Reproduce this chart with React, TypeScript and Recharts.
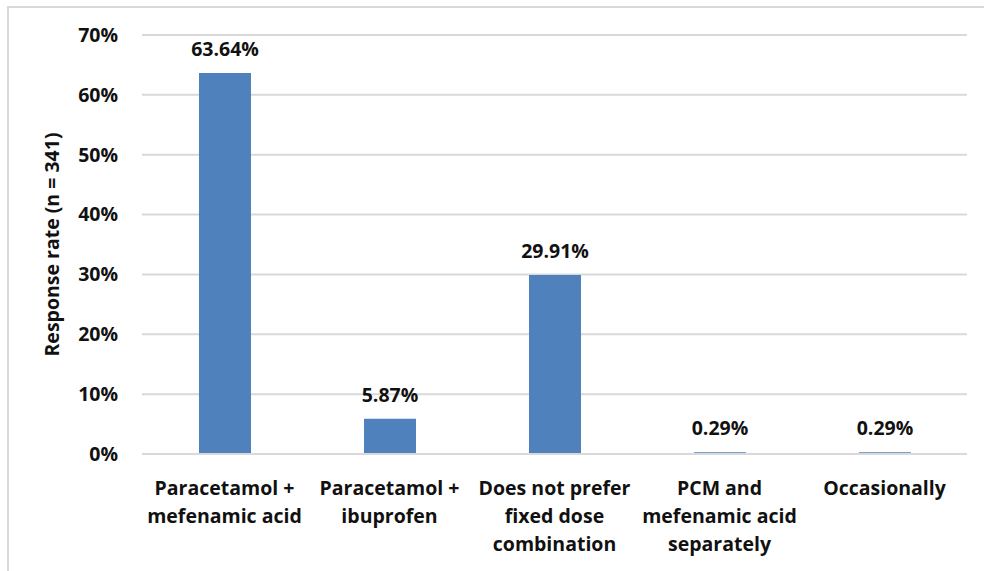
import { BarChart, Bar, XAxis, YAxis, CartesianGrid, LabelList, Label } from "recharts"

const categories = [
  "Paracetamol +\nmefenamic acid",
  "Paracetamol +\nibuprofen",
  "Does not prefer\nfixed dose\ncombination",
  "PCM and\nmefenamic acid\nseparately",
  "Occasionally",
]
const responseRates = [63.64, 5.87, 29.91, 0.29, 0.29]
const yTicks = [0, 10, 20, 30, 40, 50, 60, 70]

const data = categories.map((name, i) => ({ name, rate: responseRates[i] }))

const FONT = "'Open Sans', sans-serif"
const SIZE = 19.5

function CategoryTick(props: any) {
  const { x, y, payload } = props
  const lines = String(payload.value).split("\n")
  return (
    <text x={x} y={y} textAnchor="middle" fontFamily={FONT} fontWeight={700} fontSize={SIZE} fill="#111">
      {lines.map((line, i) => (
        <tspan key={i} x={x} dy={i === 0 ? 33 : 28}>
          {line}
        </tspan>
      ))}
    </text>
  )
}

export default function App() {
  return (
    <div style={{ position: "absolute", left: 0, top: 0, width: 984, height: 571, background: "#fff" }}>
      <div
        style={{
          position: "absolute",
          left: 7,
          top: 6,
          right: 0,
          bottom: 0,
          borderLeft: "2px solid #d9d9d9",
          borderTop: "2px solid #d9d9d9",
        }}
      />
      <div style={{ position: "absolute", left: 0, top: 0 }}>
        <BarChart width={984} height={571} data={data} margin={{ top: 35, right: 17, bottom: 0, left: 0 }}>
          <CartesianGrid vertical={false} stroke="#d9d9d9" strokeWidth={2} />
          <XAxis
            dataKey="name"
            interval={0}
            height={117}
            tickLine={false}
            axisLine={{ stroke: "#d9d9d9", strokeWidth: 2 }}
            tick={<CategoryTick />}
          />
          <YAxis
            width={142}
            domain={[0, 70]}
            ticks={yTicks}
            tickFormatter={(v) => `${v}%`}
            axisLine={false}
            tickLine={false}
            tickSize={6}
            tickMargin={18}
            tick={{ fontFamily: FONT, fontWeight: 700, fontSize: SIZE, fill: "#111" }}
          >
            <Label
              value="Response rate (n = 341)"
              angle={-90}
              position="center"
              dx={-19}
              style={{ fontFamily: FONT, fontWeight: 700, fontSize: SIZE, fill: "#111" }}
            />
          </YAxis>
          <Bar dataKey="rate" fill="#4f81bd" barSize={52} isAnimationActive={false}>
            <LabelList
              dataKey="rate"
              position="top"
              offset={17}
              formatter={(v: any) => `${Number(v).toFixed(2)}%`}
              style={{ fontFamily: FONT, fontWeight: 700, fontSize: SIZE, fill: "#111" }}
            />
          </Bar>
        </BarChart>
      </div>
    </div>
  )
}
